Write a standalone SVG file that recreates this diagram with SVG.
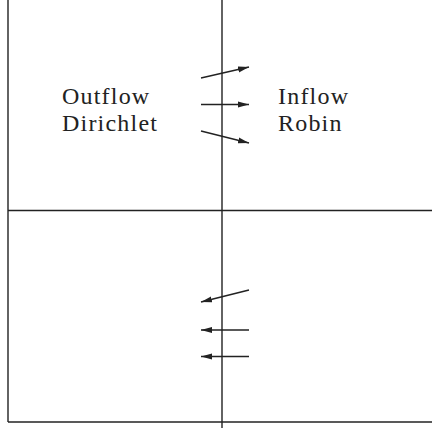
<svg xmlns="http://www.w3.org/2000/svg" width="432" height="428" viewBox="0 0 432 428">
<style>
.ln{stroke:#222;stroke-width:1.4;fill:none}
.ar{stroke:#222;stroke-width:1.3;fill:none;marker-end:url(#ah)}
.t{font-family:"Liberation Serif",serif;font-size:24px;letter-spacing:1.2px;fill:#222}
</style>
<defs>
<marker id="ah" markerWidth="12" markerHeight="8" refX="11" refY="4" orient="auto" markerUnits="userSpaceOnUse">
<path d="M0,1 L11,4 L0,7 Z" fill="#222"/>
</marker>
</defs>
<rect width="432" height="428" fill="#fff"/>
<g id="frame">
<line class="ln" x1="8" y1="0" x2="8" y2="422"/>
<line class="ln" x1="222" y1="0" x2="222" y2="428"/>
<line class="ln" x1="8" y1="210.5" x2="432" y2="210.5"/>
<line class="ln" x1="8" y1="422" x2="432" y2="422"/>
</g>
<g id="label-left">
<text class="t" x="62" y="104">Outflow</text>
<text class="t" x="62" y="131">Dirichlet</text>
</g>
<g id="label-right">
<text class="t" x="278" y="104">Inflow</text>
<text class="t" x="278" y="131">Robin</text>
</g>
<g id="connectors">
<line class="ar" x1="201" y1="78" x2="249" y2="67"/>
<line class="ar" x1="201" y1="104.5" x2="249" y2="104.5"/>
<line class="ar" x1="201" y1="131" x2="249" y2="143"/>
<line class="ar" x1="249" y1="290" x2="201" y2="302"/>
<line class="ar" x1="249" y1="330" x2="201" y2="330"/>
<line class="ar" x1="249" y1="356.5" x2="201" y2="356.5"/>
</g>
</svg>
